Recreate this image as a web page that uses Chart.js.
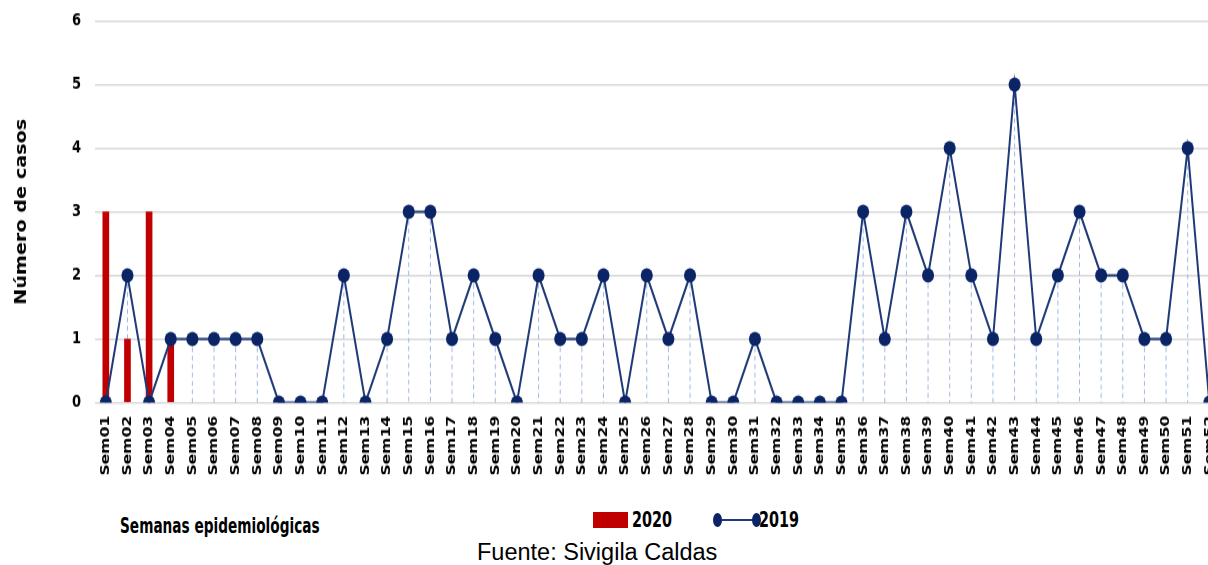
<!DOCTYPE html>
<html>
<head>
<meta charset="utf-8">
<script src="https://cdn.jsdelivr.net/npm/chart.js@4.4.1/dist/chart.umd.min.js"></script>
<style>
  html, body { margin: 0; padding: 0; background: #fff; }
  body { width: 1208px; height: 565px; overflow: hidden; position: relative; }
  #chart { position: absolute; left: 0; top: 0; }
  .lbl { position: absolute; white-space: nowrap; color: #000; }
  .narrow { font-family: "DejaVu Sans Condensed", sans-serif; font-weight: bold; transform-origin: 0 0; transform: scale(0.8, 1.1); }
</style>
</head>
<body>
<canvas id="chart" width="1236" height="400" style="width:1236px; height:480px;"></canvas>

<div class="lbl narrow" style="left:120px; top:513px; font-size:19px;">Semanas epidemiológicas</div>

<div style="position:absolute; left:593px; top:512px; width:35px; height:16px; background:#c00000;"></div>
<div class="lbl narrow" style="left:632px; top:506px; font-size:20px;">2020</div>

<div style="position:absolute; left:717px; top:519px; width:40px; height:2px; background:#1f3a78;"></div>
<div style="position:absolute; left:713px; top:513px; width:9px; height:14px; border-radius:50%; background:#0a2466;"></div>
<div style="position:absolute; left:752px; top:513px; width:9px; height:14px; border-radius:50%; background:#0a2466;"></div>
<div class="lbl narrow" style="left:759px; top:506px; font-size:20px;">2019</div>

<div class="lbl" style="left:477px; top:539px; font-family:'Liberation Sans', Arial, sans-serif; font-size:23.5px;">Fuente: Sivigila Caldas</div>

<script>
// semanas epidemiologicas
const semanas = [];
for (let i = 1; i <= 52; i++) semanas.push('Sem' + String(i).padStart(2, '0'));

// casos 2020 (solo primeras semanas)
const casos2020 = [3, 1, 3, 1];

// casos 2019
const casos2019 = [
  0, 2, 0, 1, 1, 1, 1, 1, 0, 0,
  0, 2, 0, 1, 3, 3, 1, 2, 1, 0,
  2, 1, 1, 2, 0, 2, 1, 2, 0, 0,
  1, 0, 0, 0, 0, 3, 1, 3, 2, 4,
  2, 1, 5, 1, 2, 3, 2, 2, 1, 1,
  4, 0
];

const yTicks = [0, 1, 2, 3, 4, 5, 6];

// vertical dashed drop lines under the 2019 points
const dropLines = {
  id: 'dropLines',
  beforeDatasetsDraw(chart) {
    const meta = chart.getDatasetMeta(1);
    const y0 = chart.scales.y.getPixelForValue(0);
    const ctx = chart.ctx;
    ctx.save();
    ctx.strokeStyle = '#9db6e2';
    ctx.lineWidth = 1;
    ctx.setLineDash([4, 3]);
    meta.data.forEach(pt => {
      ctx.beginPath();
      ctx.moveTo(pt.x, pt.y);
      ctx.lineTo(pt.x, y0);
      ctx.stroke();
    });
    ctx.restore();
  }
};

const ctx = document.getElementById('chart').getContext('2d');
new Chart(ctx, {
  data: {
    labels: semanas,
    datasets: [
      {
        type: 'bar',
        label: '2020',
        data: casos2020,
        backgroundColor: '#c00000',
        barThickness: 6,
        order: 2
      },
      {
        type: 'line',
        label: '2019',
        data: casos2019,
        borderColor: '#1f3a78',
        borderWidth: 2,
        backgroundColor: '#0a2466',
        pointBackgroundColor: '#0a2466',
        pointBorderWidth: 0,
        pointRadius: 6,
        tension: 0,
        clip: 0,
        order: 1
      }
    ]
  },
  options: {
    responsive: false,
    animation: false,
    devicePixelRatio: 1,
    layout: { padding: { top: 17.5, left: 0, right: 0, bottom: 4.5 } },
    plugins: {
      legend: { display: false },
      tooltip: { enabled: false }
    },
    scales: {
      x: {
        grid: { display: false, drawTicks: false },
        border: { display: false },
        ticks: {
          autoSkip: false,
          minRotation: 90,
          maxRotation: 90,
          padding: 11,
          color: '#000',
          font: { family: 'DejaVu Sans', weight: 'bold', size: 13 }
        },
        afterFit(scale) { scale.height = 60; }
      },
      y: {
        min: 0,
        max: 6,
        afterBuildTicks(scale) { scale.ticks = yTicks.map(v => ({ value: v })); },
        grid: { color: '#d9d9d9', lineWidth: 1.5, drawTicks: false },
        border: { display: false },
        ticks: {
          padding: 14,
          color: '#000',
          font: { family: 'DejaVu Sans Condensed', weight: 'bold', size: 14.5 }
        },
        title: {
          display: true,
          text: 'Número de casos',
          color: '#000',
          padding: { top: 12, bottom: 0 },
          font: { family: 'DejaVu Sans', weight: 'bold', size: 16 }
        },
        afterFit(scale) {
          scale.width = 95;
          scale.paddingTop = 0;
        }
      }
    }
  },
  plugins: [dropLines]
});
</script>
</body>
</html>
